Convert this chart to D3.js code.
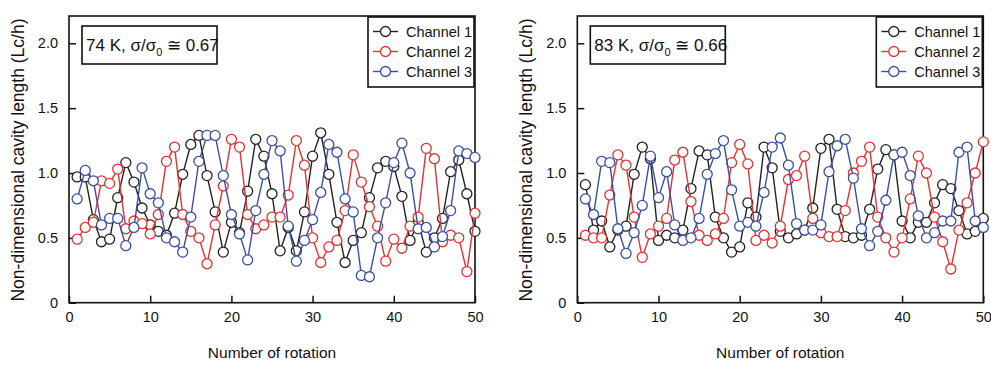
<!DOCTYPE html>
<html lang="en">
    <head>
        <meta charset="utf-8">
        <title>Cavity length per channel</title>
        <style>
            body { margin: 0; background: #fff; }
            text { font-family: "Liberation Sans", Arial, sans-serif; }
        </style>
    </head>
    <body>

        <svg width="991" height="365"></svg>
        <script src="https://d3js.org/d3.v7.min.js"></script>
        <script>
        // rotations 1..50
        var rotations = d3.range(1, 51);
        var channels = ["Channel 1", "Channel 2", "Channel 3"];
        var colors = ["#222222", "#e23232", "#3a4fa3"];
        var xTicks = [0, 10, 20, 30, 40, 50];
        var yTicks = [0, 0.5, 1.0, 1.5, 2.0];

        // 74 K panel
        var ch1_74 = [0.97,0.97,0.64,0.47,0.49,0.81,1.08,0.93,0.73,0.60,
                      0.55,0.52,0.69,0.99,1.22,1.29,0.98,0.70,0.39,0.62,
                      0.54,0.86,1.26,1.13,0.84,0.40,0.58,0.40,0.70,1.13,
                      1.31,0.99,0.62,0.31,0.48,0.54,0.81,1.04,1.09,1.05,
                      0.82,0.48,0.62,0.39,0.50,0.65,1.01,1.10,0.84,0.55];
        var ch2_74 = [0.49,0.58,0.62,0.94,0.92,1.03,0.57,0.63,0.61,0.53,
                      0.68,1.09,1.20,0.68,0.55,0.50,0.30,0.60,0.90,1.26,
                      1.20,0.68,0.57,0.60,0.66,0.66,0.83,1.25,1.06,0.50,
                      0.31,0.43,0.48,0.71,1.14,0.93,0.74,0.59,0.32,0.49,
                      0.42,0.59,0.66,1.19,1.11,0.47,0.52,0.50,0.24,0.69];
        var ch3_74 = [0.80,1.02,0.94,0.60,0.65,0.65,0.44,0.58,1.04,0.84,
                      0.77,0.50,0.47,0.39,0.66,1.09,1.29,1.29,0.98,0.68,
                      0.53,0.33,0.71,0.99,1.25,1.17,0.59,0.32,0.48,0.64,
                      0.85,1.22,1.16,0.80,0.70,0.21,0.20,0.50,0.77,1.08,
                      1.23,1.00,0.57,0.58,0.43,0.51,0.71,1.17,1.15,1.12];

        // 83 K panel
        var ch1_83 = [0.91,0.56,0.63,0.43,0.56,0.59,0.99,1.20,1.11,0.48,
                      0.52,0.50,0.56,0.88,1.17,1.14,0.66,0.50,0.39,0.43,
                      0.77,0.66,1.20,1.04,0.55,0.50,0.53,0.56,0.73,1.19,
                      1.26,0.72,0.51,0.50,0.52,0.72,1.03,1.18,1.14,0.63,
                      0.50,0.62,0.62,0.77,0.91,0.88,0.71,0.53,0.55,0.65];
        var ch2_83 = [0.52,0.50,0.50,0.83,1.14,1.06,0.66,0.35,0.53,0.59,
                      0.65,1.10,1.16,0.78,0.52,0.48,0.53,0.65,1.08,1.22,
                      1.07,0.48,0.52,0.46,0.59,0.95,0.98,1.13,0.65,0.54,
                      0.51,0.51,0.71,1.00,1.09,1.20,0.66,0.50,0.39,0.50,
                      0.80,1.13,1.00,0.66,0.47,0.26,0.56,0.77,1.00,1.24];
        var ch3_83 = [0.80,0.68,1.09,1.08,0.57,0.38,0.54,0.75,1.13,0.81,
                      1.01,0.60,0.48,0.50,0.65,0.99,1.15,1.25,0.87,0.59,
                      0.62,0.59,0.85,1.20,1.27,1.06,0.61,0.56,0.56,0.60,
                      1.01,1.21,1.26,0.96,0.57,0.44,0.55,0.79,1.14,1.16,
                      0.98,0.67,0.50,0.54,0.63,0.63,1.16,1.20,0.63,0.58];

        var svg = d3.select("svg");

        function panel(left, series, temp, ratio) {
            var width = 406, top = 16, bottom = 302.7;
            var g = svg.append("g").attr("transform", "translate(" + left + ",0)");

            var x = d3.scaleLinear().domain([0, 50]).range([0, width]);
            var y = d3.scaleLinear().domain([0, 2]).range([bottom, 43.3]);

            g.append("g")
                .attr("transform", "translate(0," + bottom + ")")
                .call(d3.axisBottom(x).tickValues(xTicks).tickSizeInner(-7).tickSizeOuter(0).tickPadding(9))
                .call(function(a) {
                    a.select(".domain").remove();
                    a.selectAll("line").attr("stroke", "#111").attr("stroke-width", 1.5);
                    a.selectAll("text").attr("font-size", 14.5).attr("fill", "#111");
                });

            g.append("g")
                .call(d3.axisLeft(y).tickValues(yTicks).tickSizeInner(-7).tickSizeOuter(0).tickPadding(11)
                    .tickFormat(function(d) { return d === 0 ? "0" : d3.format(".1f")(d); }))
                .call(function(a) {
                    a.select(".domain").remove();
                    a.selectAll("line").attr("stroke", "#111").attr("stroke-width", 1.5);
                    a.selectAll("text").attr("font-size", 14.5).attr("fill", "#111");
                });

            g.append("rect")
                .attr("x", 0).attr("y", top)
                .attr("width", width).attr("height", bottom - top)
                .attr("fill", "none").attr("stroke", "#111").attr("stroke-width", 1.6);

            var line = d3.line()
                .x(function(d, i) { return x(rotations[i]); })
                .y(function(d) { return y(d); });

            series.forEach(function(s, k) {
                var sg = g.append("g");
                sg.append("path")
                    .datum(s)
                    .attr("fill", "none")
                    .attr("stroke", colors[k])
                    .attr("stroke-width", 1.4)
                    .attr("d", line);
                sg.selectAll("circle")
                    .data(s)
                  .enter().append("circle")
                    .attr("cx", function(d, i) { return x(rotations[i]); })
                    .attr("cy", function(d) { return y(d); })
                    .attr("r", 5)
                    .attr("fill", "#fff")
                    .attr("stroke", colors[k])
                    .attr("stroke-width", 1.3);
            });

            // annotation box
            g.append("rect")
                .attr("x", 13).attr("y", 26).attr("width", 135).attr("height", 38)
                .attr("fill", "#fff").attr("stroke", "#111").attr("stroke-width", 1.6);
            var t = g.append("text")
                .attr("x", 17).attr("y", 50.5)
                .attr("font-size", 17).attr("fill", "#111");
            t.append("tspan").text(temp + " K, σ/σ");
            t.append("tspan").attr("font-size", 11).attr("dy", 5).text("0");
            t.append("tspan").attr("dy", -5).text(" ≅ " + ratio);

            // legend
            var lg = g.append("g").attr("transform", "translate(299,17)");
            lg.append("rect")
                .attr("width", 106).attr("height", 70)
                .attr("fill", "#fff").attr("stroke", "#111").attr("stroke-width", 1.6);
            channels.forEach(function(c, k) {
                var yy = 14.5 + k * 20;
                lg.append("line")
                    .attr("x1", 5).attr("x2", 30).attr("y1", yy).attr("y2", yy)
                    .attr("stroke", colors[k]).attr("stroke-width", 1.4);
                lg.append("circle")
                    .attr("cx", 17.5).attr("cy", yy).attr("r", 5)
                    .attr("fill", "#fff").attr("stroke", colors[k]).attr("stroke-width", 1.3);
                lg.append("text")
                    .attr("x", 38).attr("y", yy + 5)
                    .attr("font-size", 14.5).attr("fill", "#111")
                    .text(c);
            });

            // axis titles
            g.append("text")
                .attr("transform", "translate(-45,160) rotate(-90)")
                .attr("text-anchor", "middle")
                .attr("font-size", 17.5).attr("fill", "#111")
                .text("Non-dimensional cavity length (Lc/h)");
            g.append("text")
                .attr("x", width / 2).attr("y", 358)
                .attr("text-anchor", "middle")
                .attr("font-size", 15.5).attr("fill", "#111")
                .text("Number of rotation");
        }

        panel(69, [ch1_74, ch2_74, ch3_74], 74, "0.67");
        panel(577.3, [ch1_83, ch2_83, ch3_83], 83, "0.66");
        </script>

    </body>
</html>
